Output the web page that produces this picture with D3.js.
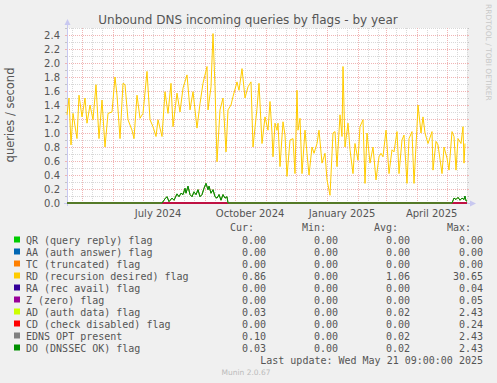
<!DOCTYPE html>
<html>
<head>
<meta charset="utf-8">
<script src="https://cdn.jsdelivr.net/npm/d3@7"></script>
<style>
  html, body { margin: 0; padding: 0; background: #f0f0f0; }
  text { font-family: "DejaVu Sans", sans-serif; }
  .mono { font-family: "DejaVu Sans Mono", monospace; }
</style>
</head>
<body>
<div id="graph"></div>
<script>
/*******************************************************************************
* Data
*******************************************************************************/
var endDate = new Date(2025, 4, 21, 9, 0, 0);
var spanDays = 400;

// RD (recursion desired) flag, day offset from graph start -> queries/s
var rdDays = [0, 2, 4, 6, 10, 12, 15, 18, 20, 23, 26, 29, 32, 35, 38, 41, 45, 48, 50, 53,
  56, 58, 61, 65, 67, 70, 73, 76, 80, 83, 86, 89, 91, 95, 98, 101, 104, 106, 110, 113,
  116, 120, 123, 126, 130, 133, 136, 140, 141, 144, 146, 148, 150, 153, 156, 159, 161, 164, 166, 170,
  172, 175, 178, 181, 184, 186, 190, 192, 195, 198, 201, 203, 205, 206, 208, 210, 211, 213, 216, 218,
  220, 223, 226, 228, 230, 231, 233, 235, 238, 240, 242, 245, 247, 250, 252, 255, 258, 260, 263, 266,
  268, 270, 273, 275, 276, 278, 281, 283, 286, 288, 291, 293, 296, 298, 300, 303, 306, 309, 312, 314,
  316, 319, 322, 325, 327, 330, 332, 335, 337, 340, 342, 345, 347, 350, 351, 354, 356, 358, 361, 365,
  366, 369, 371, 375, 377, 380, 382, 385, 387, 389, 391, 394, 396, 397, 398];
var rdValues = [1.26, 1.50, 0.83, 1.28, 0.92, 1.54, 1.23, 1.50, 1.14, 1.40, 1.19, 1.69, 0.92, 1.47, 0.80, 1.28, 1.30, 1.80, 1.54, 0.92,
  1.71, 1.69, 1.19, 1.04, 0.92, 1.54, 1.21, 1.28, 1.88, 1.19, 1.09, 0.95, 1.19, 0.95, 1.59, 1.28, 1.71, 1.09, 1.57, 1.30,
  1.64, 1.83, 1.33, 1.59, 1.07, 1.42, 1.71, 1.95, 1.33, 1.66, 2.42, 1.66, 0.59, 1.33, 1.50, 0.73, 1.33, 1.40, 1.52, 1.73,
  1.61, 1.92, 1.50, 1.66, 1.73, 0.80, 1.35, 1.71, 0.85, 1.23, 1.04, 1.45, 1.00, 0.66, 1.14, 1.04, 1.14, 0.52, 1.16, 0.97,
  0.38, 0.90, 0.92, 0.42, 1.61, 1.04, 1.21, 0.42, 1.04, 0.71, 0.40, 0.80, 0.71, 0.85, 1.04, 0.57, 0.71, 0.33, 0.11, 1.00,
  1.02, 0.52, 1.26, 0.95, 1.95, 0.80, 1.14, 0.76, 0.42, 0.85, 0.61, 1.09, 1.19, 0.28, 1.00, 0.57, 0.80, 0.33, 0.66, 0.71,
  0.66, 1.04, 0.42, 0.76, 0.73, 1.02, 0.42, 0.90, 0.97, 0.28, 0.92, 1.02, 0.28, 1.09, 1.40, 1.00, 1.23, 1.00, 0.85, 1.02,
  0.47, 0.88, 0.83, 0.42, 0.80, 0.64, 0.47, 1.02, 0.95, 0.47, 0.92, 0.85, 1.09, 0.57, 0.85];

// DO (DNSSEC OK) flag; AD and EDNS follow it closely
var doDays = [0, 95, 98, 100, 102, 105, 107, 110, 112, 114, 116, 118, 119, 121, 123, 125, 127, 129, 131, 133,
  135, 137, 139, 141, 142, 144, 146, 148, 150, 152, 154, 156, 158, 160, 161, 385, 387, 389, 391, 393,
  395, 397, 398, 399, 400];
var doValues = [0, 0, 0.06, 0.09, 0.02, 0.07, 0.04, 0.13, 0.09, 0.14, 0.12, 0.21, 0.14, 0.24, 0.12, 0.09, 0.16, 0.12, 0.19, 0.09,
  0.12, 0.21, 0.28, 0.19, 0.24, 0.14, 0.19, 0.09, 0.07, 0.12, 0.04, 0.12, 0.07, 0.09, 0, 0, 0.07, 0.05, 0.08, 0.04,
  0.07, 0.05, 0.10, 0.03, 0.03];

var zeroDays = [0, 400];
var zeroValues = [0, 0];

var legendNames = ["QR (query reply) flag", "AA (auth answer) flag", "TC (truncated) flag",
  "RD (recursion desired) flag", "RA (rec avail) flag", "Z (zero) flag", "AD (auth data) flag",
  "CD (check disabled) flag", "EDNS OPT present", "DO (DNSSEC OK) flag"];
var legendColors = ["#00cc00", "#0066b3", "#ff8000", "#ffcc00", "#330099", "#990099",
  "#ccff00", "#ff0000", "#808080", "#008f00"];
var curValues = ["0.00", "0.00", "0.00", "0.86", "0.00", "0.00", "0.03", "0.00", "0.10", "0.03"];
var minValues = ["0.00", "0.00", "0.00", "0.00", "0.00", "0.00", "0.00", "0.00", "0.00", "0.00"];
var avgValues = ["0.00", "0.00", "0.00", "1.06", "0.00", "0.00", "0.02", "0.00", "0.02", "0.02"];
var maxValues = ["0.00", "0.00", "0.00", "30.65", "0.04", "0.05", "2.43", "0.24", "2.43", "2.43"];

var monthLabels = ["July 2024", "October 2024", "January 2025", "April 2025"];
var monthLabelDates = [new Date(2024, 6, 1), new Date(2024, 9, 1), new Date(2025, 0, 1), new Date(2025, 3, 1)];

/*******************************************************************************
* Svg Container
*******************************************************************************/
var fullWidth = 497;
var fullHeight = 383;
var plotLeft = 67, plotRight = 467, plotTop = 28, plotBottom = 203;

var startDate = new Date(endDate.getTime() - spanDays * 864e5);
function dayDate(d) { return new Date(startDate.getTime() + d * 864e5); }

var x = d3.scaleTime().domain([startDate, endDate]).range([plotLeft, plotRight]);
var y = d3.scaleLinear().domain([0, 2.5]).range([plotBottom, plotTop]);

var svg = d3.select("#graph").append("svg")
  .attr("width", fullWidth)
  .attr("height", fullHeight)
  .style("display", "block");

svg.append("rect").attr("width", fullWidth).attr("height", fullHeight).attr("fill", "#f0f0f0");
svg.append("rect")
  .attr("x", plotLeft).attr("y", plotTop)
  .attr("width", plotRight - plotLeft).attr("height", plotBottom - plotTop)
  .attr("fill", "#ffffff");

/*******************************************************************************
* grid
*******************************************************************************/
var grid = svg.append("g").attr("shape-rendering", "crispEdges");
var majorColor = "#f0b4b4", minorColor = "#d8d8d8";

// horizontal: minor every 0.1, major every 0.2
d3.range(1, 26).forEach(function(i) {
  var major = i % 2 === 0;
  var yy = Math.round(y(i / 10)) + 0.5;
  grid.append("line")
    .attr("x1", plotLeft).attr("x2", plotRight)
    .attr("y1", yy).attr("y2", yy)
    .attr("stroke", major ? majorColor : minorColor)
    .attr("stroke-dasharray", "1,1");
  grid.append("line")
    .attr("x1", plotLeft - 2).attr("x2", plotLeft).attr("y1", yy).attr("y2", yy)
    .attr("stroke", major ? majorColor : "#c4c4c4");
  grid.append("line")
    .attr("x1", plotRight).attr("x2", plotRight + 2).attr("y1", yy).attr("y2", yy)
    .attr("stroke", major ? majorColor : "#c4c4c4");
});

// vertical: minor on the 11th and 21st, major on month start
var months = d3.timeMonth.range(d3.timeMonth.floor(startDate), endDate);
months.forEach(function(m) {
  [1, 11, 21].forEach(function(day) {
    var dt = new Date(m.getFullYear(), m.getMonth(), day);
    if (dt <= startDate || dt >= endDate) return;
    var xx = Math.round(x(dt)) + 0.5;
    grid.append("line")
      .attr("x1", xx).attr("x2", xx)
      .attr("y1", plotTop).attr("y2", plotBottom)
      .attr("stroke", day === 1 ? majorColor : minorColor)
      .attr("stroke-dasharray", "1,1");
  });
});

/*******************************************************************************
* axes
*******************************************************************************/
var axisColor = "#c8c8f0";
svg.append("line")
  .attr("x1", plotLeft + 0.5).attr("x2", plotLeft + 0.5)
  .attr("y1", plotBottom + 3).attr("y2", plotTop - 4)
  .attr("stroke", axisColor).attr("shape-rendering", "crispEdges");
svg.append("path")
  .attr("d", "M" + (plotLeft - 2.5) + "," + (plotTop - 3) + "L" + (plotLeft + 0.5) + "," + (plotTop - 9) + "L" + (plotLeft + 3.5) + "," + (plotTop - 3) + "Z")
  .attr("fill", axisColor);
svg.append("line")
  .attr("x1", plotLeft - 3).attr("x2", plotRight + 4)
  .attr("y1", plotBottom + 0.5).attr("y2", plotBottom + 0.5)
  .attr("stroke", axisColor).attr("shape-rendering", "crispEdges");
svg.append("path")
  .attr("d", "M" + (plotRight + 3) + "," + (plotBottom - 2.5) + "L" + (plotRight + 9) + "," + (plotBottom + 0.5) + "L" + (plotRight + 3) + "," + (plotBottom + 3.5) + "Z")
  .attr("fill", axisColor);

var yAxis = svg.append("g")
  .attr("transform", "translate(" + (plotLeft - 7) + ",0)")
  .call(d3.axisLeft(y).tickValues(d3.range(0, 2.41, 0.2)).tickFormat(d3.format(".1f")).tickSize(0));
yAxis.select(".domain").remove();
yAxis.selectAll("text")
  .attr("x", 0).attr("dy", "0.35em")
  .attr("fill", "#555").style("font-size", "10px").style("font-family", "DejaVu Sans");

// month labels sit in the middle of their month
svg.append("g").selectAll("text")
  .data(monthLabels)
  .enter()
  .append("text")
  .attr("x", function(d, i) {
    var m = monthLabelDates[i];
    return (x(m) + x(d3.timeMonth.offset(m, 1))) / 2;
  })
  .attr("y", 217)
  .attr("text-anchor", "middle")
  .attr("fill", "#555")
  .style("font-size", "10px")
  .text(function(d) { return d; });

/*******************************************************************************
* lines
*******************************************************************************/
var line = d3.line()
  .x(function(d) { return x(dayDate(d[0])); })
  .y(function(d) { return y(d[1]); });

function pairs(days, values) {
  return days.map(function(d, i) { return [d, values[i]]; });
}

var seriesData = [
  pairs(zeroDays, zeroValues), pairs(zeroDays, zeroValues), pairs(zeroDays, zeroValues),
  pairs(rdDays, rdValues), pairs(zeroDays, zeroValues), pairs(zeroDays, zeroValues),
  pairs(doDays, doValues), pairs(zeroDays, zeroValues), pairs(doDays, doValues),
  pairs(doDays, doValues)
];

svg.append("g").selectAll("path")
  .data(seriesData)
  .enter()
  .append("path")
  .attr("d", line)
  .attr("fill", "none")
  .attr("stroke", function(d, i) { return legendColors[i]; })
  .attr("stroke-width", 1);

/*******************************************************************************
* titles
*******************************************************************************/
svg.append("text")
  .attr("x", 248).attr("y", 24)
  .attr("text-anchor", "middle")
  .attr("fill", "#555")
  .style("font-size", "12px")
  .text("Unbound DNS incoming queries by flags - by year");

svg.append("text")
  .attr("transform", "translate(14,115) rotate(-90)")
  .attr("text-anchor", "middle")
  .attr("fill", "#555")
  .style("font-size", "11.5px")
  .text("queries / second");

svg.append("text")
  .attr("transform", "translate(486,4) rotate(90)")
  .attr("text-anchor", "start")
  .attr("fill", "#c8c8c8")
  .style("font-size", "7.5px")
  .text("RRDTOOL / TOBI OETIKER");

/*******************************************************************************
* legend
*******************************************************************************/
var legend = svg.append("g").attr("class", "mono").attr("fill", "#555").style("font-size", "10px");
var colRight = [266, 338, 410, 483];
["Cur:", "Min:", "Avg:", "Max:"].forEach(function(h, i) {
  legend.append("text").attr("class", "mono")
    .attr("x", colRight[i] - 12).attr("y", 231)
    .attr("text-anchor", "end").text(h);
});

var rows = legend.selectAll("g.row")
  .data(legendNames)
  .enter()
  .append("g")
  .attr("transform", function(d, i) { return "translate(0," + (243.5 + i * 12) + ")"; });

rows.append("rect")
  .attr("x", 14).attr("y", -7).attr("width", 6).attr("height", 6)
  .attr("fill", function(d, i) { return legendColors[i]; });
rows.append("text").attr("class", "mono").attr("x", 26).text(function(d) { return d; });
[curValues, minValues, avgValues, maxValues].forEach(function(col, c) {
  rows.append("text").attr("class", "mono")
    .attr("x", colRight[c]).attr("text-anchor", "end")
    .text(function(d, i) { return col[i]; });
});

legend.append("text").attr("class", "mono")
  .attr("x", 483).attr("y", 363.5).attr("text-anchor", "end")
  .text("Last update: Wed May 21 09:00:00 2025");

svg.append("text")
  .attr("x", 246).attr("y", 375)
  .attr("text-anchor", "middle")
  .attr("fill", "#bbbbbb")
  .style("font-size", "7.5px")
  .text("Munin 2.0.67");
</script>
</body>
</html>
